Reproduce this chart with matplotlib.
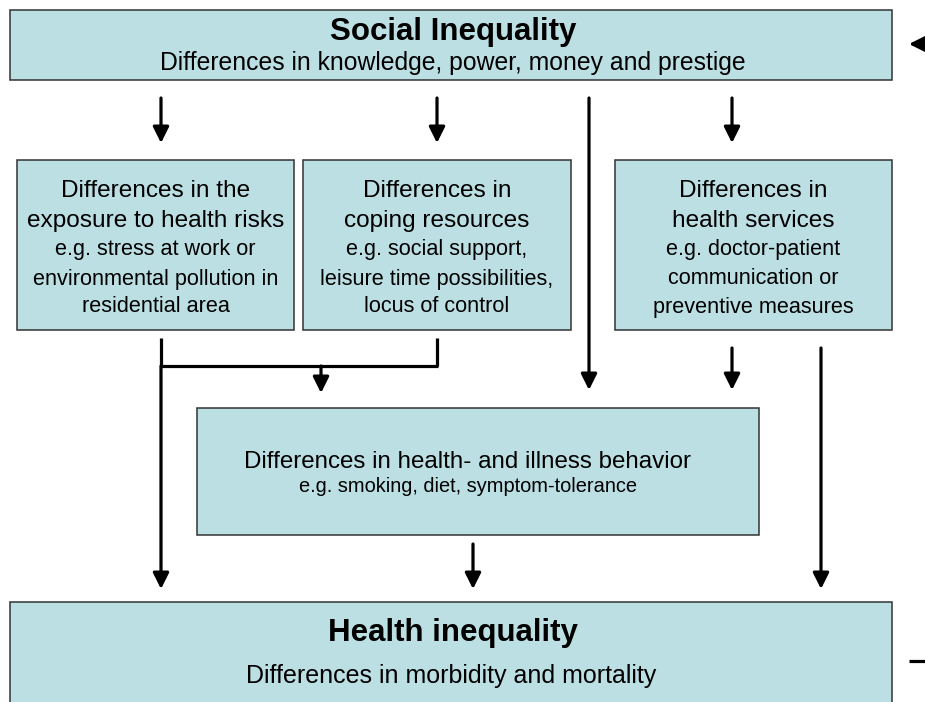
import matplotlib.pyplot as plt
from matplotlib.patches import Rectangle

plt.rcParams['font.family'] = ['Liberation Sans', 'DejaVu Sans']

# texts of the diagram
top_title = "Social Inequality"
top_sub = "Differences in knowledge, power, money and prestige"

box_heads = [
    ["Differences in the", "exposure to health risks"],
    ["Differences in", "coping resources"],
    ["Differences in", "health services"],
]
box_examples = [
    ["e.g. stress at work or", "environmental pollution in", "residential area"],
    ["e.g. social support,", "leisure time possibilities,", "locus of control"],
    ["e.g. doctor-patient", "communication or", "preventive measures"],
]

mid_head = "Differences in health- and illness behavior"
mid_example = "e.g. smoking, diet, symptom-tolerance"

bottom_title = "Health inequality"
bottom_sub = "Differences in morbidity and mortality"

FILL = '#bbdfe3'
EDGE = '#333333'
ARROW = dict(arrowstyle='-|>,head_length=0.6,head_width=0.3',
             lw=2.3, color='black', mutation_scale=16, shrinkA=0, shrinkB=0)


def draw_box(ax, x0, y0, x1, y1):
    ax.add_patch(Rectangle((x0, y0), x1 - x0, y1 - y0, facecolor=FILL,
                           edgecolor=EDGE, linewidth=1.1, zorder=1))


def arrow(ax, x0, y0, x1, y1):
    ax.annotate('', xy=(x1, y1), xytext=(x0, y0), arrowprops=ARROW, zorder=3)


def line(ax, xs, ys):
    ax.plot(xs, ys, color='black', lw=2.3, solid_capstyle='butt', zorder=3)


fig = plt.figure(figsize=(9.25, 7.02), dpi=100)
ax = fig.add_axes([0, 0, 1, 1])
ax.set_xlim(0, 925)
ax.set_ylim(702, 0)
ax.axis('off')

# top box
draw_box(ax, 10, 10, 892, 80)
ax.text(453, 32, top_title, ha='center', va='center', fontsize=22.5, fontweight='bold')
ax.text(453, 63, top_sub, ha='center', va='center', fontsize=17.8)

# three boxes in the second row
boxes = [(17, 160, 294, 330), (303, 160, 571, 330), (615, 160, 892, 330)]
ys = [191, 221, 250, 279, 307]
for (x0, y0, x1, y1), heads, ex in zip(boxes, box_heads, box_examples):
    draw_box(ax, x0, y0, x1, y1)
    cx = (x0 + x1) / 2
    for yy, t in zip(ys[:2], heads):
        ax.text(cx, yy, t, ha='center', va='center', fontsize=17.6)
    for yy, t in zip(ys[2:], ex):
        ax.text(cx, yy, t, ha='center', va='center', fontsize=15.6)

# behaviour box
draw_box(ax, 197, 408, 759, 535)
ax.text(468, 462, mid_head, ha='center', va='center', fontsize=17.4)
ax.text(468, 487, mid_example, ha='center', va='center', fontsize=14.4)

# bottom box
draw_box(ax, 10, 602, 892, 720)
ax.text(453, 633, bottom_title, ha='center', va='center', fontsize=22.5, fontweight='bold')
ax.text(451, 676, bottom_sub, ha='center', va='center', fontsize=18)

# arrows from top box
for x in [161, 437, 732]:
    arrow(ax, x, 98, x, 143)
arrow(ax, 589, 98, 589, 390)

# risks + coping -> behaviour
line(ax, [161, 161], [338, 366])
line(ax, [437, 437], [338, 366])
line(ax, [160, 438], [366, 366])
arrow(ax, 321, 366, 321, 393)
arrow(ax, 161, 366, 161, 589)

# health services arrows
arrow(ax, 732, 348, 732, 390)
arrow(ax, 821, 348, 821, 589)

# behaviour -> health inequality
arrow(ax, 473, 544, 473, 589)

# feedback stubs on the right edge
arrow(ax, 930, 44, 909, 44)
line(ax, [909, 930], [661, 661])

fig.savefig('out.png', dpi=100)
